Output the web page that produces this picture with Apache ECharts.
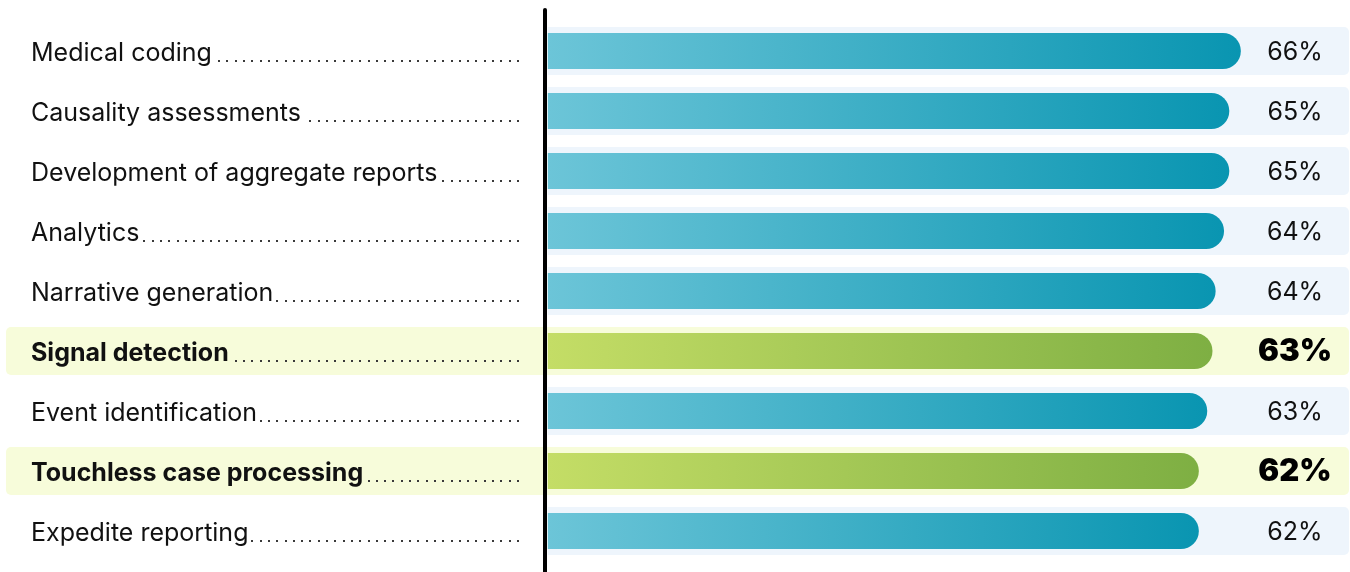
<!DOCTYPE html>
<html><head><meta charset="utf-8">
<script src="https://cdn.jsdelivr.net/npm/echarts@6/dist/echarts.min.js"></script>
<style>html,body{margin:0;padding:0;background:#fff}#c{width:1350px;height:572px}</style>
</head><body><div id="c"></div>
<script>
const categories = ['Medical coding','Causality assessments','Development of aggregate reports','Analytics','Narrative generation','Signal detection','Event identification','Touchless case processing','Expedite reporting'];
const values = [66.0, 64.9, 64.9, 64.4, 63.6, 63.3, 62.8, 62.0, 62.0];
const valueLabels = ['66%','65%','65%','64%','64%','63%','63%','62%','62%'];
const highlightedCategories = ['Signal detection','Touchless case processing'];
const xMin = -51.6, xMax = 76.3;

const isHi = c => highlightedCategories.indexOf(c) >= 0;
const FONT = 'Inter';
const nameSize = 25;
const labelLeft = 31, leaderEnd = 519, dotStep = 8.3;
const blueGrad = () => new echarts.graphic.LinearGradient(0,0,1,0,[{offset:0,color:'#6cc5d8'},{offset:1,color:'#0995b1'}]);
const greenGrad = () => new echarts.graphic.LinearGradient(0,0,1,0,[{offset:0,color:'#c4dd66'},{offset:1,color:'#7eaf43'}]);

const cv = document.createElement('canvas').getContext('2d');
function textW(t, bold){ cv.font = (bold?'bold ':'') + nameSize + 'px ' + FONT; return cv.measureText(t).width; }

const chart = echarts.init(document.getElementById('c'));
chart.setOption({
  animation:false,
  grid:[{left:6,right:1,top:21,height:540},{left:545,width:10,top:10,bottom:-10}],
  xAxis:[{type:'value',min:xMin,max:xMax,show:false,gridIndex:0},{type:'value',show:false,gridIndex:1}],
  yAxis:[
    {type:'category',data:categories,inverse:true,gridIndex:0,z:10,
     axisLine:{show:false,onZero:false},axisTick:{show:false},
     axisLabel:{inside:true,margin:labelLeft-6,align:'left',
       formatter:(v)=>'{' + (isHi(v)?'b':'n') + '|' + v + '}',
       rich:{
         n:{fontFamily:FONT,fontSize:nameSize,color:'#111',padding:[5,0,0,0]},
         b:{fontFamily:FONT,fontSize:nameSize,fontWeight:'bold',color:'#111',padding:[5,0,0,0]}
       }}},
    {type:'category',data:categories,inverse:true,gridIndex:0,show:false},
    {type:'value',gridIndex:1,min:0,max:1,z:10,axisLine:{show:true,lineStyle:{color:'#000',width:4,cap:'round'}},axisTick:{show:false},axisLabel:{show:false},splitLine:{show:false}}
  ],
  series:[
    {type:'bar',yAxisIndex:1,barWidth:48,barGap:'-100%',z:1,silent:true,
     data:categories.map((c,i)=>({value:xMax,itemStyle:{color:isHi(c)?'#f7fcda':'#eef5fc',borderRadius:[0,5,5,0]}})),
     label:{show:true,position:'insideRight',distance:54,align:'center',verticalAlign:'middle',
       formatter:(p)=>'{' + (isHi(categories[p.dataIndex])?'b':'n') + '|' + valueLabels[p.dataIndex] + '}',
       rich:{n:{fontFamily:FONT,fontSize:25,color:'#111',padding:[2,0,0,0]},b:{fontFamily:FONT,fontSize:31,fontWeight:900,color:'#000',padding:[2,0,0,0]}}}},
    {type:'bar',yAxisIndex:1,barWidth:48,barGap:'-100%',z:1,silent:true,
     data:categories.map(c=>isHi(c)?{value:xMin,itemStyle:{color:'#f7fcda',borderRadius:[5,0,0,5]}}:'-')},
    {type:'bar',yAxisIndex:0,barWidth:36,z:3,
     data:values.map((v,i)=>({value:v,itemStyle:{color:isHi(categories[i])?greenGrad():blueGrad(),borderRadius:[0,18,18,0]}}))},
    {type:'custom',coordinateSystem:'cartesian2d',xAxisIndex:0,yAxisIndex:0,z:10,silent:true,
     data:categories.map((c,i)=>[0,i]),
     renderItem:(params, api)=>{
       const c = categories[params.dataIndex];
       const y = Math.round(api.coord([0, params.dataIndex])[1] + 9);
       const xStart = labelLeft + textW(c, isHi(c)) + 2;
       const children = [];
       for (let x = leaderEnd - 2; x >= xStart; x -= dotStep) {
         children.push({type:'rect',shape:{x:Math.round(x),y:y,width:2,height:2},style:{fill:'#3a3a3a'}});
       }
       return {type:'group',children};
     }}
  ]
});
</script></body></html>
